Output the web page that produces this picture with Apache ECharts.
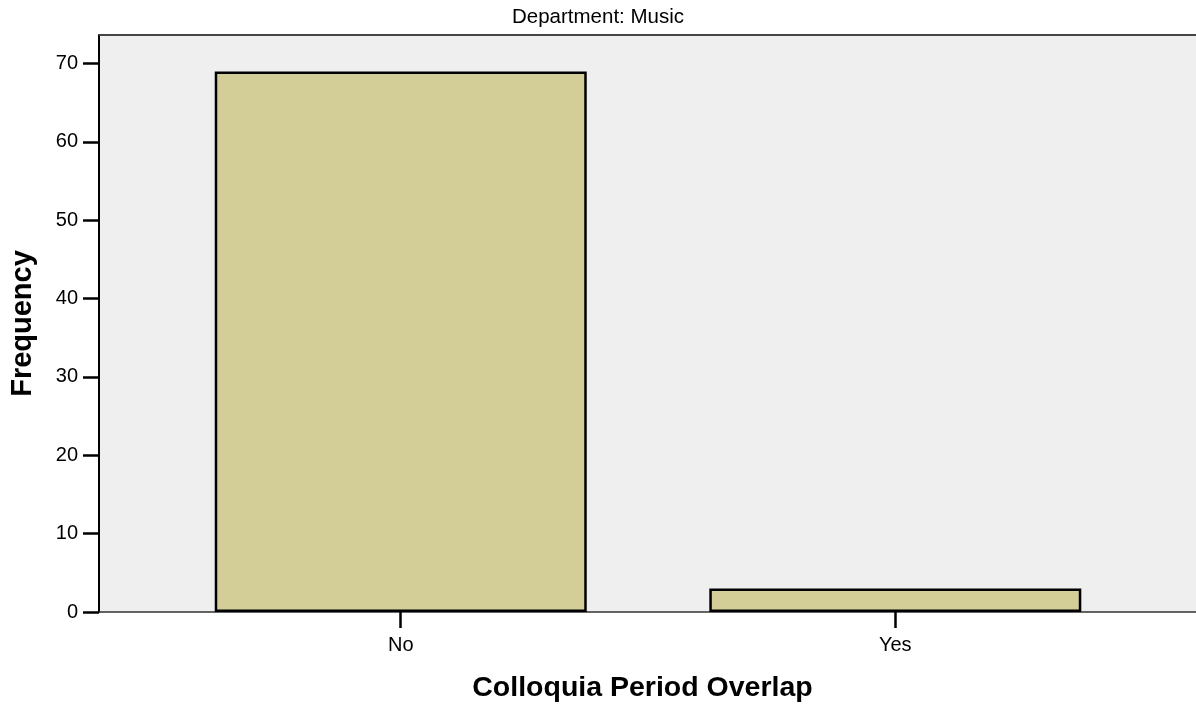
<!DOCTYPE html>
<html>
<head>
<meta charset="utf-8">
<script src="https://cdn.jsdelivr.net/npm/echarts@6/dist/echarts.min.js"></script>
<style>
html,body{margin:0;padding:0;background:#fff;}
#chart{width:1196px;height:708px;}
</style>
</head>
<body>
<div id="chart"></div>
<script>
var categories = ['No', 'Yes'];
var frequencies = [69, 3];
var yTicks = [0, 10, 20, 30, 40, 50, 60, 70];
var chartTitle = 'Department: Music';
var xTitle = 'Colloquia Period Overlap';
var yTitle = 'Frequency';

var catIdx = categories.map(function (c, i) { return i; });
var barData = frequencies.map(function (v, i) { return [i, v]; });
var FONT = 'Liberation Sans, Arial, sans-serif';

var chart = echarts.init(document.getElementById('chart'), null, {renderer: 'canvas'});
chart.setOption({
  animation: false,
  backgroundColor: '#ffffff',
  title: {
    text: chartTitle,
    left: 'center',
    top: 2,
    textStyle: {fontFamily: FONT, fontSize: 20.5, fontWeight: 'normal', color: '#000'}
  },
  grid: {
    left: 98, right: 0, top: 35, bottom: 95,
    show: true,
    backgroundColor: '#efefef',
    borderWidth: 0
  },
  xAxis: {
    type: 'value',
    min: -0.6101,
    max: 1.608,
    splitLine: {show: false},
    axisLine: {show: true, onZero: false, lineStyle: {color: '#333', width: 1.5}},
    axisTick: {show: true, customValues: catIdx, length: 16, lineStyle: {color: '#000', width: 2.5}},
    axisLabel: {
      customValues: catIdx,
      formatter: function (v) { return categories[Math.round(v)]; },
      margin: 23,
      fontFamily: FONT, fontSize: 20, color: '#000'
    },
    name: xTitle,
    nameLocation: 'middle',
    nameGap: 62,
    nameTextStyle: {fontFamily: FONT, fontSize: 28.5, fontWeight: 'bold', color: '#000', padding: [0, 10, 0, 0]}
  },
  yAxis: [{
    type: 'value',
    min: 0,
    max: 73.65,
    splitLine: {show: false},
    axisLine: {show: true, onZero: false, lineStyle: {color: '#000', width: 2}},
    axisTick: {show: true, customValues: yTicks, length: 16, lineStyle: {color: '#000', width: 2.5}},
    axisLabel: {
      customValues: yTicks,
      margin: 21,
      fontFamily: FONT, fontSize: 20, color: '#000'
    },
    name: yTitle,
    nameLocation: 'middle',
    nameGap: 62,
    nameRotate: 90,
    nameTextStyle: {fontFamily: FONT, fontSize: 29, fontWeight: 'bold', color: '#000'}
  }],
  series: [{
    type: 'bar',
    data: barData,
    barWidth: 372,
    itemStyle: {color: '#d3ce97', borderColor: '#000', borderWidth: 2.5},
    markLine: {
      silent: true,
      symbol: 'none',
      label: {show: false},
      lineStyle: {color: '#444', width: 2, type: 'solid'},
      data: [{yAxis: 73.65}]
    }
  }]
});
</script>
</body>
</html>
